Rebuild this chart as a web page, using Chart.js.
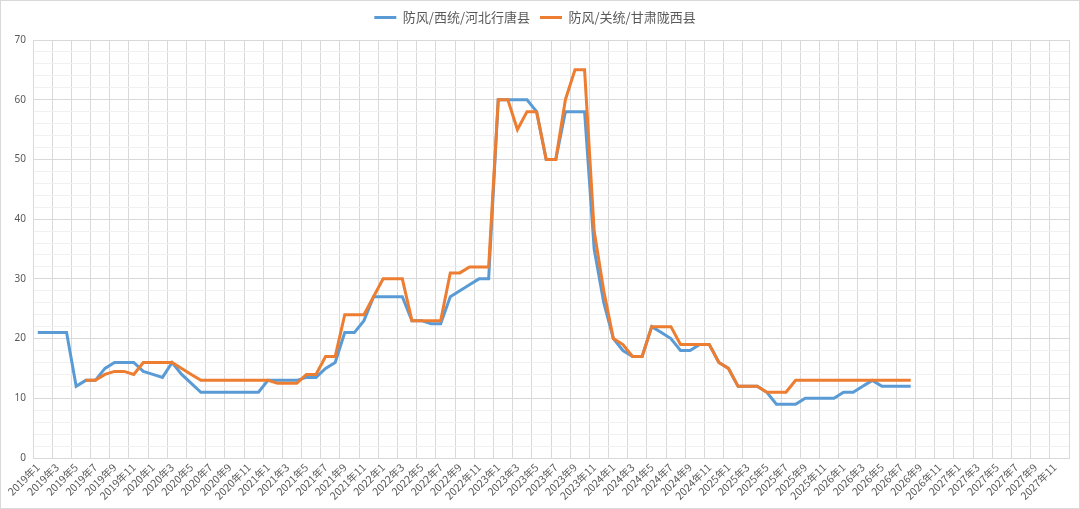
<!DOCTYPE html>
<html>
<head>
<meta charset="utf-8">
<script src="https://cdn.jsdelivr.net/npm/chart.js@4/dist/chart.umd.min.js"></script>
<style>
  html, body { margin: 0; padding: 0; background: #fff; }
  #wrap { width: 1080px; height: 509px; box-sizing: border-box; border: 1px solid #d9d9d9; }
</style>
</head>
<body>
<div id="wrap"><canvas id="c"></canvas></div>
<script>
// 月份类别 2019年1 ~ 2027年12
const years = [2019, 2020, 2021, 2022, 2023, 2024, 2025, 2026, 2027];
const months = [1, 2, 3, 4, 5, 6, 7, 8, 9, 10, 11, 12];
const categories = [];
years.forEach(y => months.forEach(m => categories.push(y + '年' + m)));

const seriesNames = ['防风/西统/河北行唐县', '防风/关统/甘肃陇西县'];

// 防风/西统/河北行唐县
const hebeiPrices = [
  21, 21, 21, 21, 12, 13, 13, 15, 16, 16, 16, 14.5,
  14, 13.5, 16, 14, 12.5, 11, 11, 11, 11, 11, 11, 11,
  13, 13, 13, 13, 13.5, 13.5, 15, 16, 21, 21, 23, 27,
  27, 27, 27, 23, 23, 22.5, 22.5, 27, 28, 29, 30, 30,
  60, 60, 60, 60, 58, 50, 50, 58, 58, 58, 35, 26,
  20, 18, 17, 17, 22, 21, 20, 18, 18, 19, 19, 16,
  15, 12, 12, 12, 11, 9, 9, 9, 10, 10, 10, 10,
  11, 11, 12, 13, 12, 12, 12, 12
];

// 防风/关统/甘肃陇西县
const gansuPrices = [
  null, null, null, null, null, 13, 13, 14, 14.5, 14.5, 14, 16,
  16, 16, 16, 15, 14, 13, 13, 13, 13, 13, 13, 13,
  13, 12.5, 12.5, 12.5, 14, 14, 17, 17, 24, 24, 24, 27,
  30, 30, 30, 23, 23, 23, 23, 31, 31, 32, 32, 32,
  60, 60, 55, 58, 58, 50, 50, 60, 65, 65, 38, 28,
  20, 19, 17, 17, 22, 22, 22, 19, 19, 19, 19, 16,
  15, 12, 12, 12, 11, 11, 11, 13, 13, 13, 13, 13,
  13, 13, 13, 13, 13, 13, 13, 13
];

const yTicks = [0, 10, 20, 30, 40, 50, 60, 70];

const textColor = '#595959';
const gridColor = '#d9d9d9';

// 固定图例高度
const legendHeight = {
  id: 'legendHeight',
  beforeInit(chart) {
    const fit = chart.legend.fit;
    chart.legend.fit = function () {
      fit.bind(chart.legend)();
      this.height = 39;
    };
  }
};

new Chart(document.getElementById('c'), {
  type: 'line',
  data: {
    labels: categories,
    datasets: [
      {
        label: seriesNames[0],
        data: hebeiPrices,
        borderColor: '#5B9BD5',
        backgroundColor: '#5B9BD5',
        borderWidth: 3,
        pointRadius: 0,
        tension: 0,
        order: 2
      },
      {
        label: seriesNames[1],
        data: gansuPrices,
        borderColor: '#ED7D31',
        backgroundColor: '#ED7D31',
        borderWidth: 3,
        pointRadius: 0,
        tension: 0,
        order: 1
      }
    ]
  },
  options: {
    responsive: true,
    maintainAspectRatio: false,
    animation: false,
    layout: { padding: { left: 0, right: 10, top: 0, bottom: 3 } },
    plugins: {
      tooltip: { enabled: false },
      legend: {
        position: 'top',
        labels: {
          color: textColor,
          font: { family: '"Noto Sans CJK SC", "Noto Sans", sans-serif', size: 13 },
          usePointStyle: true,
          pointStyle: 'line',
          pointStyleWidth: 22,
          boxHeight: 3,
          padding: 10,
          sort: (a, b) => a.datasetIndex - b.datasetIndex
        }
      }
    },
    scales: {
      x: {
        offset: true,
        grid: {
          offset: true,
          color: ctx => (ctx.index === undefined || ctx.index % 2 === 0) ? gridColor : 'rgba(0,0,0,0)',
          drawTicks: false
        },
        border: { color: gridColor },
        ticks: {
          autoSkip: false,
          maxRotation: 45,
          minRotation: 45,
          padding: 3,
          color: textColor,
          font: { family: '"Noto Sans CJK SC", "Noto Sans", sans-serif', size: 10.5 },
          callback: function (val, i) { return i % 2 === 0 ? this.getLabelForValue(val) : ''; }
        },
        afterFit: scale => { scale.height = 47; }
      },
      y: {
        min: 0,
        max: 70,
        ticks: {
          stepSize: 2,
          autoSkip: false,
          color: textColor,
          padding: 7,
          font: { family: '"Noto Sans", sans-serif', size: 10 },
          callback: v => yTicks.includes(v) ? v : ''
        },
        grid: {
          color: ctx => (ctx.tick && ctx.tick.value % 10 === 0) ? gridColor : '#f0f0f0',
          drawTicks: false
        },
        border: { color: gridColor },
        afterFit: scale => { scale.width = 32; }
      }
    }
  },
  plugins: [legendHeight]
});
</script>
</body>
</html>
